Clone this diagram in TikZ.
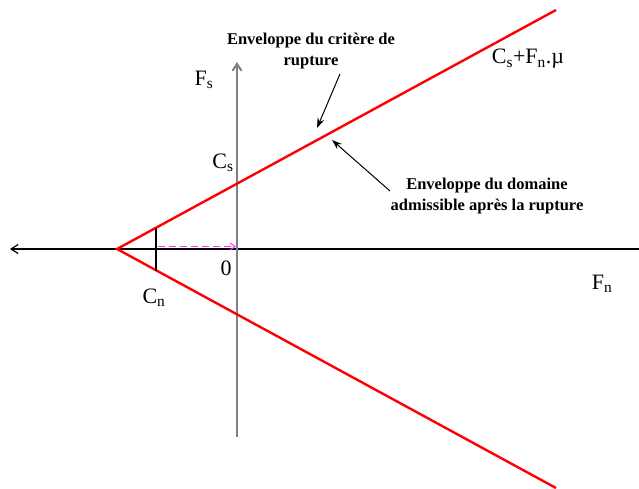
\documentclass[tikz,border=0pt]{standalone}
\usepackage{fontspec}
\setmainfont{Liberation Serif}
\usetikzlibrary{arrows.meta, positioning}
\definecolor{axisgray}{HTML}{808080}
\definecolor{critred}{HTML}{FF0000}
\definecolor{shiftmag}{HTML}{FF33FF}
\tikzset{
  maxlabel/.style={font=\fontsize{22}{24}\selectfont, inner sep=0pt},
  notelabel/.style={font=\fontsize{16.5}{21}\selectfont\bfseries, align=center, inner sep=0pt},
  envline/.style={critred, line width=2.4pt},
  notearrow/.style={-{Stealth[length=10pt,width=7pt]}, line width=1pt}
}
\begin{document}
\begin{tikzpicture}[x=1pt, y=1pt]
    \useasboundingbox (0, 0) rectangle (639, 488);
    % axes
    \coordinate (hleft)  at (10, 239);
    \coordinate (hright) at (639, 239);
    \coordinate (vlow)   at (237, 51);
    \coordinate (vtop)   at (237, 426);
    \draw[line width=1.2pt, -{Straight Barb[length=7pt,width=9pt]}] (hright) -- (hleft);
    \draw[axisgray, line width=2pt, -{Straight Barb[length=7pt,width=9pt]}] (vlow) -- (vtop);
    % enveloppe
    \coordinate (apex)  at (117, 239);
    \coordinate (upend) at (556, 478);
    \coordinate (loend) at (556, 0);
    \draw[envline] (upend) -- (apex) -- (loend);
    % Cn
    \coordinate (cntop) at (156, 260.5);
    \coordinate (cnbot) at (156, 217.5);
    \draw[line width=2pt] (cntop) -- (cnbot);
    \coordinate (shiftA) at (158, 241.5);
    \coordinate (shiftB) at (236, 241.5);
    \draw[shiftmag, line width=1pt, dashed, dash pattern=on 7pt off 4pt,
          -{Straight Barb[length=5pt,width=7pt]}] (shiftA) -- (shiftB);
    % labels
    \node[maxlabel] (fs)  at (204, 408) {F\textsubscript{s}};
    \node[maxlabel] (cs)  at (223, 325) {C\textsubscript{s}};
    \node[maxlabel] (zero) at (226, 220) {0};
    \node[maxlabel] (cn)  at (154, 190) {C\textsubscript{n}};
    \node[maxlabel] (fn)  at (602, 204) {F\textsubscript{n}};
    \node[maxlabel] (law) at (528, 429) {C\textsubscript{s}+F\textsubscript{n}.µ};
    \node[notelabel] (crit) at (311, 437) {Enveloppe du critère de\\rupture};
    \node[notelabel] (dom)  at (487, 292) {Enveloppe du domaine\\admissible après la rupture};
    % fleches
    \coordinate (critTail) at (340, 414);
    \coordinate (critHead) at (317, 360);
    \coordinate (domTail)  at (390, 297);
    \coordinate (domHead)  at (332, 348);
    \draw[notearrow] (critTail) -- (critHead);
    \draw[notearrow] (domTail) -- (domHead);
  \end{tikzpicture}
\end{document}
